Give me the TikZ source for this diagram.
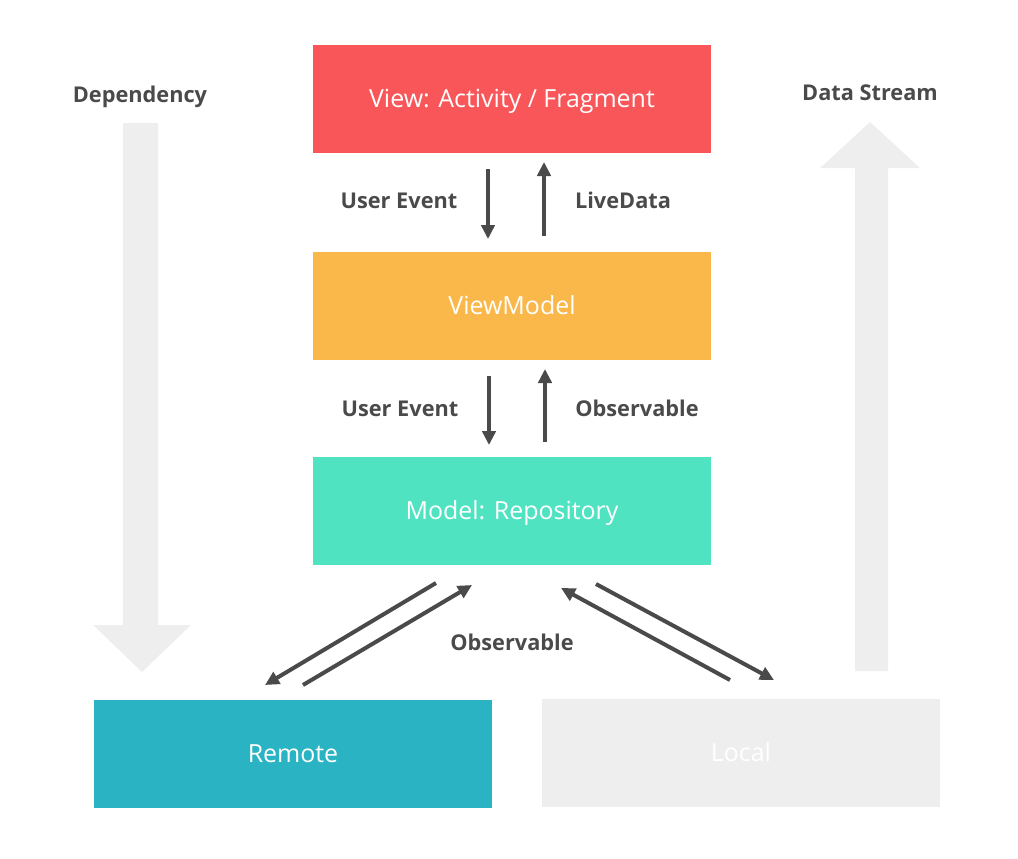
\documentclass[tikz,border=0pt]{standalone}
\usepackage{fontspec}
\setmainfont{Open Sans}
\usetikzlibrary{arrows.meta}
\definecolor{viewred}{HTML}{F9565A}
\definecolor{vmorange}{HTML}{FBB84A}
\definecolor{modelteal}{HTML}{50E3C2}
\definecolor{remoteblue}{HTML}{2AB3C2}
\definecolor{lightgray}{HTML}{EEEEEE}
\definecolor{darktext}{HTML}{4A4A4A}
\tikzset{
  layer/.style={fill=#1, draw=none, minimum width=298.5pt, minimum height=81pt, inner sep=0pt, text=white, font=\fontsize{18.7}{20}\selectfont, text height=13.4pt, text depth=0pt},
  lbl/.style={text=darktext, font=\bfseries\fontsize{16.3}{18}\selectfont, inner sep=0pt, text height=11.6pt, text depth=0pt},
  flow/.style={draw=darktext, line width=3pt, -{Triangle[length=10.5pt,width=10pt]}},
  bigarrow/.style={fill=lightgray, draw=none}
}
\begin{document}
\begin{tikzpicture}[x=0.75pt,y=-0.75pt]
\useasboundingbox (0,0) rectangle (1018,858);
% big gray arrows
\fill[bigarrow] (123,123) -- (158,123) -- (158,625) -- (191,625) -- (142,672) -- (93,625) -- (123,625) -- cycle;
\fill[bigarrow] (855,671) -- (888,671) -- (888,168) -- (920,168) -- (870,122) -- (820,168) -- (855,168) -- cycle;
\node[lbl] (dep) at (140,95) {Dependency};
\node[lbl] (ds) at (870,93) {Data Stream};
% layers
\node[layer=viewred] (view) at (512,99) {View: Activity / Fragment};
\node[layer=vmorange] (vm) at (512,306) {ViewModel};
\node[layer=modelteal] (model) at (512,511) {Model: Repository};
\node[layer=remoteblue] (remote) at (293,754) {Remote};
\node[layer=lightgray] (local) at (741,753) {Local};
% vertical arrows
\coordinate (a1s) at (488,169); \coordinate (a1e) at (488,239);
\coordinate (a2s) at (544,236); \coordinate (a2e) at (544,162);
\draw[flow] (a1s) -- (a1e);
\draw[flow] (a2s) -- (a2e);
\node[lbl] (ue1) at (399,201) {User Event};
\node[lbl] (ld) at (623,201) {LiveData};
\coordinate (b1s) at (489,376); \coordinate (b1e) at (489,445);
\coordinate (b2s) at (545,442); \coordinate (b2e) at (545,369);
\draw[flow] (b1s) -- (b1e);
\draw[flow] (b2s) -- (b2e);
\node[lbl] (ue2) at (400,409) {User Event};
\node[lbl] (obs1) at (637,409) {Observable};
% diagonal arrows
\coordinate (c1s) at (436,583); \coordinate (c1e) at (265,685);
\coordinate (c2s) at (303,685); \coordinate (c2e) at (472,585);
\coordinate (c3s) at (730,680); \coordinate (c3e) at (561,588);
\coordinate (c4s) at (596,584); \coordinate (c4e) at (774,680);
\draw[flow] (c1s) -- (c1e);
\draw[flow] (c2s) -- (c2e);
\draw[flow] (c3s) -- (c3e);
\draw[flow] (c4s) -- (c4e);
\node[lbl] (obs2) at (512,643) {Observable};
\end{tikzpicture}
\end{document}
